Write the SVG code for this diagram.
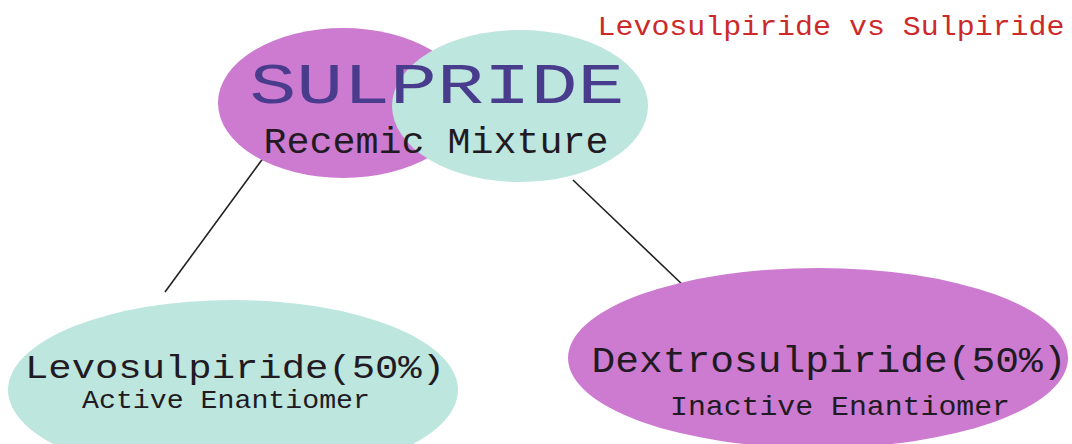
<svg xmlns="http://www.w3.org/2000/svg" width="1072" height="444" viewBox="0 0 1072 444">
<style>
.pink{fill:#cc7bd0}
.teal{fill:#bce6de}
.t{font-family:"Liberation Mono","Courier New",monospace;text-anchor:middle}
.dark{fill:#221a22}
.conn{stroke:#222;stroke-width:1.6;fill:none}
</style>
<rect width="1072" height="444" fill="#ffffff"/>
<text class="t" x="831" y="35" font-size="28" fill="#cc2a2a" textLength="467" lengthAdjust="spacingAndGlyphs">Levosulpiride vs Sulpiride</text>
<g id="connectors">
<line class="conn" x1="264" y1="157" x2="165" y2="292"/>
<line class="conn" x1="573" y1="180" x2="685" y2="287"/>
</g>
<g id="sulpride">
<ellipse class="pink" cx="343" cy="103" rx="125" ry="75"/>
<ellipse class="teal" cx="520" cy="106" rx="128" ry="76"/>
<text class="t" x="437" y="103" font-size="58" fill="#4a3c8c" textLength="375" lengthAdjust="spacingAndGlyphs">SULPRIDE</text>
<text class="t dark" x="436" y="153" font-size="36" textLength="345" lengthAdjust="spacingAndGlyphs">Recemic Mixture</text>
</g>
<g id="levosulpiride">
<ellipse class="teal" cx="233" cy="390" rx="225" ry="90"/>
<text class="t dark" x="235" y="378" font-size="33" textLength="420" lengthAdjust="spacingAndGlyphs">Levosulpiride(50%)</text>
<text class="t dark" x="226" y="408" font-size="26" textLength="288" lengthAdjust="spacingAndGlyphs">Active Enantiomer</text>
</g>
<g id="dextrosulpiride">
<ellipse class="pink" cx="818" cy="358" rx="250" ry="90"/>
<text class="t dark" x="829" y="372" font-size="37" textLength="475" lengthAdjust="spacingAndGlyphs">Dextrosulpiride(50%)</text>
<text class="t dark" x="840" y="415" font-size="28" textLength="340" lengthAdjust="spacingAndGlyphs">Inactive Enantiomer</text>
</g>
</svg>
